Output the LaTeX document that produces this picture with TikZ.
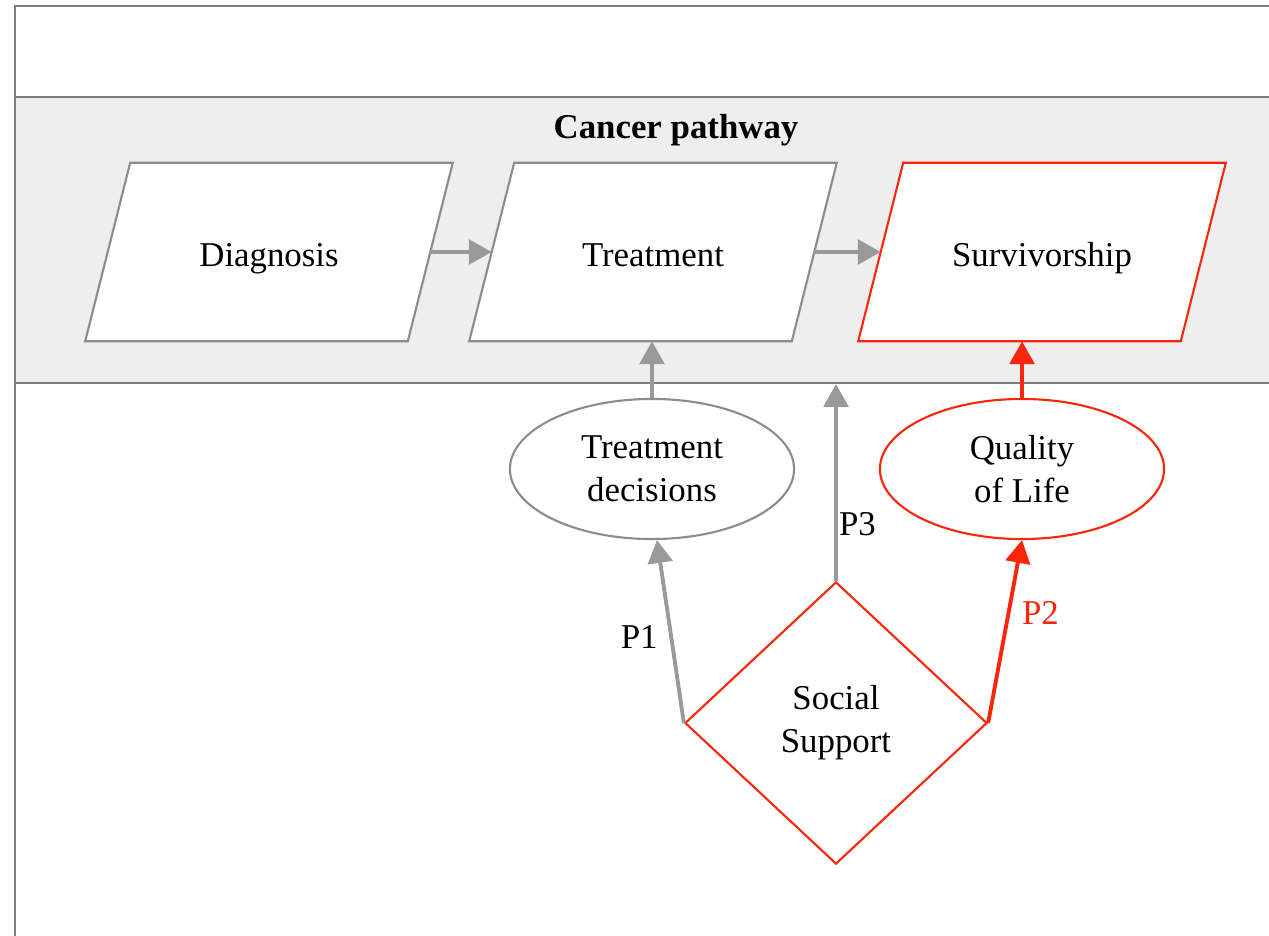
\documentclass[tikz,border=0pt]{standalone}
\usepackage{fontspec}
\setmainfont{Liberation Serif}
\usepackage{tikz}
\usetikzlibrary{arrows.meta,shapes.geometric,positioning,calc,backgrounds}
\usepackage{xcolor}
\definecolor{framegray}{RGB}{125,125,125}
\definecolor{boxgray}{RGB}{140,140,140}
\definecolor{arrowgray}{RGB}{153,153,153}
\definecolor{bandgray}{RGB}{238,238,238}
\definecolor{pathred}{RGB}{250,38,10}
\newcommand{\figfont}{\fontsize{9.9}{12.2}\selectfont}

\begin{document}
\begin{tikzpicture}[x=0.01cm, y=-0.01cm, font=\figfont,
    stage/.style={rectangle, minimum width=3.21cm, minimum height=1.77cm, inner sep=0pt,
        text height=8pt, text depth=0pt},
    factor/.style={ellipse, draw=boxgray, line width=0.6pt, fill=white, align=center,
        minimum width=2.84cm, minimum height=1.40cm, inner sep=0pt},
    link/.style={-{Triangle[length=6.5pt, width=7pt]}, line width=1.1pt, arrowgray},
    redlink/.style={link, pathred}]
    \useasboundingbox (0,0) rectangle (1269,936);

    % Pathway stages
    \node[stage] (diag) at (269,252) {Diagnosis};
    \node[stage] (treat) at (653,252) {Treatment};
    \node[stage] (surv) at (1042,252) {Survivorship};

    % Frame, band and stage outlines
    \begin{scope}[on background layer]
        \fill[bandgray] (15,97) rectangle (1269,383);
        \draw[framegray, line width=0.6pt] (1269,6) -- (15,6) -- (15,936);
        \draw[framegray, line width=0.6pt] (15,97) -- (1269,97);
        \draw[framegray, line width=0.6pt] (15,383) -- (1269,383);
        \foreach \n/\c in {diag/boxgray, treat/boxgray, surv/pathred}
            \draw[\c, line width=0.6pt, fill=white]
                ($(\n.north west)+(22.5,0)$) -- ($(\n.north east)+(22.5,0)$)
                -- ($(\n.south east)+(-22.5,0)$) -- ($(\n.south west)+(-22.5,0)$) -- cycle;
    \end{scope}
    \node[font=\figfont\bfseries] (title) at (676,130) {Cancer pathway};
    \draw[link] (diag) -- (treat);
    \draw[link] (treat) -- (surv);

    % Outcomes
    \node[factor] (dec) at (652,469) {Treatment\\decisions};
    \node[factor, draw=pathred] (qol) at (1022,469) {Quality\\of Life};
    \draw[link] (dec.north) -- (dec.north |- treat.south);
    \draw[redlink] (qol.north) -- (qol.north |- surv.south);

    % Social support and pathways
    \node[diamond, draw=pathred, line width=0.6pt, fill=white, align=center,
        minimum width=3.02cm, minimum height=2.82cm, inner sep=0pt] (soc) at (836,723) {Social\\Support};
    \coordinate (bandedge) at (836,384);
    \draw[link] (soc.west) -- node[left, pos=0.47, black] {P1} (dec.-86);
    \draw[redlink] (soc.east) -- node[right, pos=0.6, pathred] {P2} (qol.south);
    \draw[link] (soc.north) -- node[right, pos=0.29, black, xshift=-3pt] {P3} (bandedge);
\end{tikzpicture}
\end{document}
